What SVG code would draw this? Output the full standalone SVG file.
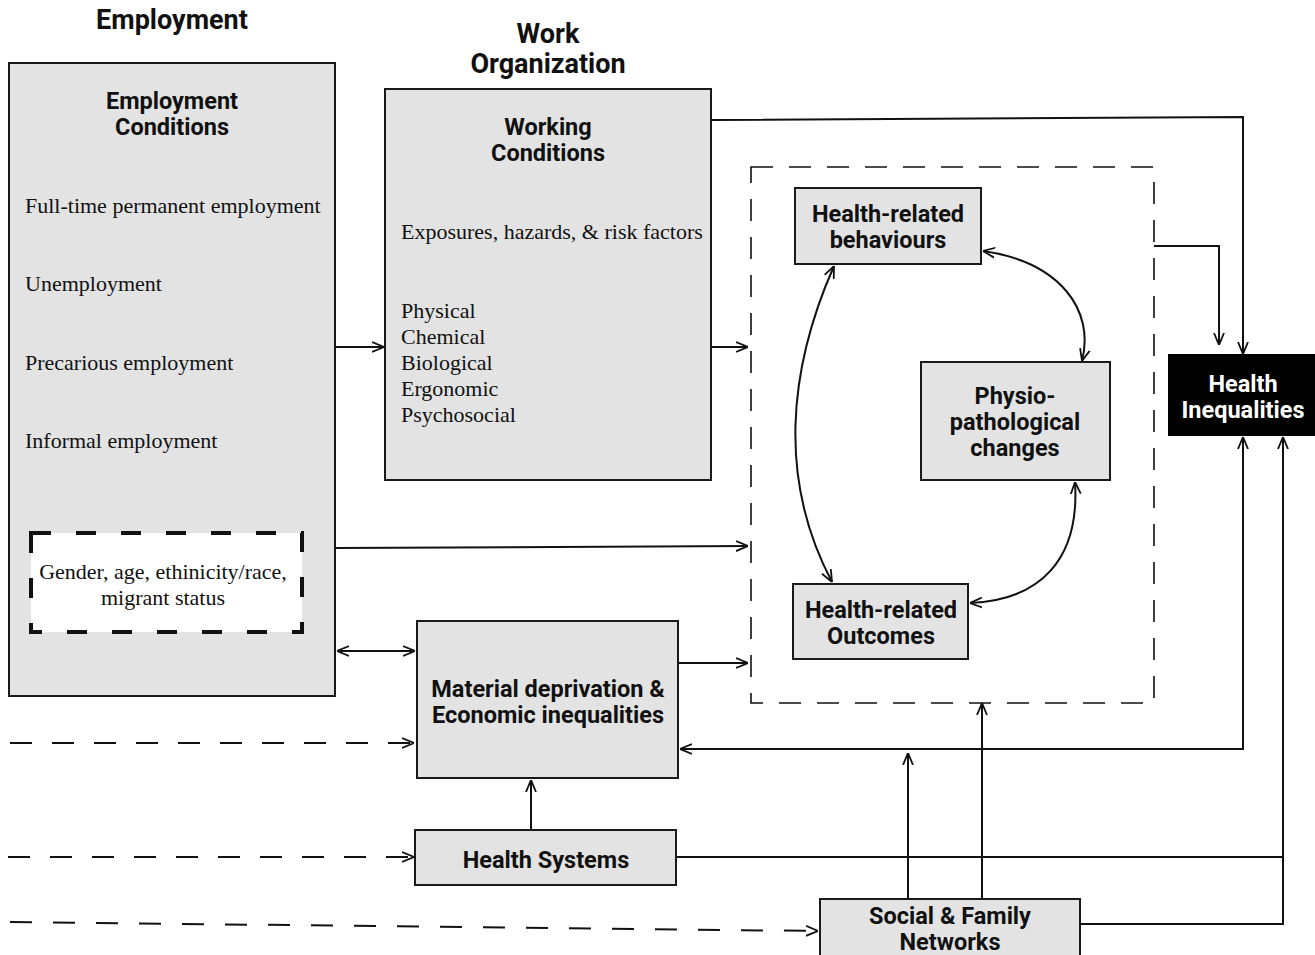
<svg xmlns="http://www.w3.org/2000/svg" width="1315" height="955" viewBox="0 0 1315 955">
<style>
.box{fill:#e3e3e3;stroke:#1a1a1a;stroke-width:2}
.h{font-family:Roboto,"Liberation Sans",sans-serif;font-weight:700;fill:#111;text-anchor:middle}
.t{font-size:23.5px}
.title{font-size:27px}
.s{font-family:"Liberation Serif","DejaVu Serif",serif;font-size:22px;fill:#111}
.ln{fill:none;stroke:#111;stroke-width:2}
.dash{fill:none;stroke:#111;stroke-width:1.6;stroke-dasharray:22 16}
</style>
<defs>
<marker id="ah" viewBox="0 0 12 12" refX="12" refY="6" markerWidth="12" markerHeight="12" markerUnits="userSpaceOnUse" orient="auto-start-reverse">
<path d="M0,1 L12,6 L0,11" fill="none" stroke="#111" stroke-width="1.8"/>
</marker>
</defs>
<rect width="1315" height="955" fill="#fff"/>

<text class="h title" x="172" y="29">Employment</text>
<text class="h title" x="548" y="43">Work</text>
<text class="h title" x="548" y="73">Organization</text>

<g id="employment">
<rect class="box" x="9" y="63" width="326" height="633"/>
<text class="h t" x="172" y="109">Employment</text>
<text class="h t" x="172" y="135">Conditions</text>
<text class="s" x="25" y="213">Full-time permanent employment</text>
<text class="s" x="25" y="291">Unemployment</text>
<text class="s" x="25" y="370">Precarious employment</text>
<text class="s" x="25" y="448">Informal employment</text>
</g>
<g id="demographics">
<rect x="31" y="533" width="271" height="99" fill="#fff" stroke="#111" stroke-width="4" stroke-dasharray="20 25"/>
<text class="s" x="163" y="579" text-anchor="middle">Gender, age, ethinicity/race,</text>
<text class="s" x="163" y="605" text-anchor="middle">migrant status</text>
</g>
<g id="working">
<rect class="box" x="385" y="89" width="326" height="391"/>
<text class="h t" x="548" y="135">Working</text>
<text class="h t" x="548" y="161">Conditions</text>
<text class="s" x="401" y="239">Exposures, hazards, &amp; risk factors</text>
<text class="s" x="401" y="318">Physical</text>
<text class="s" x="401" y="344">Chemical</text>
<text class="s" x="401" y="370">Biological</text>
<text class="s" x="401" y="396">Ergonomic</text>
<text class="s" x="401" y="422">Psychosocial</text>
</g>
<g id="health-area">
<rect class="dash" x="751" y="167" width="403" height="536"/>
</g>
<g id="behaviours">
<rect class="box" x="795" y="188" width="186" height="76"/>
<text class="h t" x="888" y="222">Health-related</text>
<text class="h t" x="888" y="248">behaviours</text>
</g>
<g id="physio">
<rect class="box" x="921" y="362" width="189" height="118"/>
<text class="h t" x="1015" y="404">Physio-</text>
<text class="h t" x="1015" y="430">pathological</text>
<text class="h t" x="1015" y="456">changes</text>
</g>
<g id="outcomes">
<rect class="box" x="793" y="584" width="175" height="75"/>
<text class="h t" x="881" y="618">Health-related</text>
<text class="h t" x="881" y="644">Outcomes</text>
</g>
<g id="inequalities">
<rect x="1169" y="355" width="150" height="80" fill="#000" stroke="#000" stroke-width="2"/>
<text class="h t" x="1243" y="392" style="fill:#fff">Health</text>
<text class="h t" x="1243" y="418" style="fill:#fff">Inequalities</text>
</g>
<g id="material">
<rect class="box" x="417" y="621" width="261" height="157"/>
<text class="h t" x="548" y="697">Material deprivation &amp;</text>
<text class="h t" x="548" y="723">Economic inequalities</text>
</g>
<g id="healthsystems">
<rect class="box" x="415" y="830" width="261" height="55"/>
<text class="h t" x="546" y="868">Health Systems</text>
</g>
<g id="social">
<rect class="box" x="820" y="899" width="260" height="60"/>
<text class="h t" x="950" y="924">Social &amp; Family</text>
<text class="h t" x="950" y="950">Networks</text>
</g>

<g id="connectors">
<path class="ln" d="M335,347 H384" marker-end="url(#ah)"/>
<path class="ln" d="M711,347 H748" marker-end="url(#ah)"/>
<path class="ln" d="M711,120 L1243,117 V354" marker-end="url(#ah)"/>
<path class="ln" d="M1154,246 H1219 V345" marker-end="url(#ah)"/>
<path class="ln" d="M335,548 L748,546" marker-end="url(#ah)"/>
<path class="ln" d="M337,651 H415" marker-start="url(#ah)" marker-end="url(#ah)"/>
<path class="ln" d="M678,663 H748" marker-end="url(#ah)"/>
<path class="ln" d="M1243,437 V749 H680" marker-start="url(#ah)" marker-end="url(#ah)"/>
<path class="ln" d="M531,830 V780" marker-end="url(#ah)"/>
<path class="ln" d="M676,857 H1283"/>
<path class="ln" d="M1080,924 H1283 V437" marker-end="url(#ah)"/>
<path class="ln" d="M908,899 V753" marker-end="url(#ah)"/>
<path class="ln" d="M982,899 V703" marker-end="url(#ah)"/>
<path class="ln" d="M10,743 H414" stroke-dasharray="22 20" marker-end="url(#ah)"/>
<path class="ln" d="M8,857 H414" stroke-dasharray="22 20" marker-end="url(#ah)"/>
<path class="ln" d="M10,922 L818,931" stroke-dasharray="22 21" marker-end="url(#ah)"/>
<path class="ln" d="M834,266 C788,370 778,480 832,582" marker-start="url(#ah)" marker-end="url(#ah)"/>
<path class="ln" d="M983,251 C1060,262 1095,310 1082,361" marker-start="url(#ah)" marker-end="url(#ah)"/>
<path class="ln" d="M1075,482 C1080,560 1040,600 970,603" marker-start="url(#ah)" marker-end="url(#ah)"/>
</g>
</svg>
